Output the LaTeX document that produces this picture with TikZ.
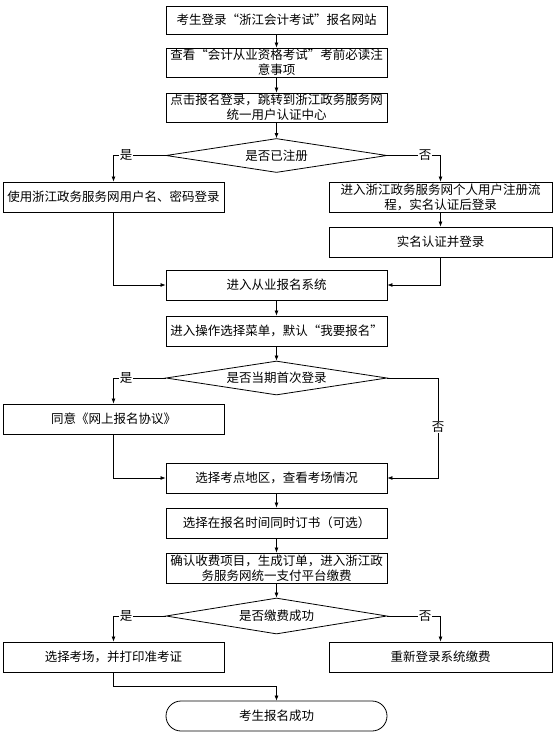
\documentclass[tikz,border=0pt]{standalone}
\usepackage{fontspec}
\setmainfont{Noto Sans CJK SC}
\newcommand{\mylq}{\makebox[1em][r]{“}}
\newcommand{\myrq}{\makebox[1em][l]{”}}
\usetikzlibrary{shapes.geometric,arrows.meta}
\begin{document}
\begin{tikzpicture}[x=1pt,y=-1pt,
  every node/.style={font=\fontsize{12.5}{15}\selectfont, inner sep=1pt},
  box/.style={draw, line width=0.9pt, minimum width=221pt, minimum height=30pt, align=center},
  dec/.style={draw, diamond, aspect=6.5, line width=0.8pt, minimum width=221pt, minimum height=34pt, inner sep=0pt},
  term/.style={draw, line width=0.8pt, rounded corners=15pt, minimum width=221pt, minimum height=30pt},
  arr/.style={draw, line width=0.7pt, -{Latex[length=5pt,width=4pt]}},
  lbl/.style={fill=white, inner sep=1pt}]
\useasboundingbox (0,0) rectangle (554,734);

\node[box, minimum height=28pt] (b1) at (276.5,20) {考生登录\mylq 浙江会计考试\myrq 报名网站};
\node[box, minimum height=29pt] (b2) at (276.5,62.5) {查看\mylq 会计从业资格考试\myrq 考前必读注\\意事项};
\node[box, minimum height=29pt] (b3) at (276.5,107.5) {点击报名登录，跳转到浙江政务服务网\\统一用户认证中心};
\node[dec] (d1) at (276.5,155.5) {是否已注册};
\node[box] (l1) at (113.5,197) {使用浙江政务服务网用户名、密码登录};
\node[box, minimum width=223pt] (r1) at (440.5,197) {进入浙江政务服务网个人用户注册流\\程，实名认证后登录};
\node[box, minimum width=223pt] (r2) at (440.5,242) {实名认证并登录};
\node[box] (b4) at (276.5,285) {进入从业报名系统};
\node[box] (b5) at (276.5,331) {进入操作选择菜单，默认\mylq 我要报名\myrq};
\node[dec] (d2) at (276.5,378) {是否当期首次登录};
\node[box] (l2) at (113.5,419) {同意《网上报名协议》};
\node[box] (b6) at (276.5,478) {选择考点地区，查看考场情况};
\node[box] (b7) at (276.5,523) {选择在报名时间同时订书（可选）};
\node[box] (b8) at (276.5,568) {确认收费项目，生成订单，进入浙江政\\务服务网统一支付平台缴费};
\node[dec, minimum height=36pt] (d3) at (276.5,616) {是否缴费成功};
\node[box] (l3) at (113.5,657) {选择考场，并打印准考证};
\node[box, minimum width=223pt] (r3) at (440.5,657) {重新登录系统缴费};
\node[term] (t) at (276.5,716) {考生报名成功};

\coordinate (c2) at (438,378);
\coordinate (c3) at (276.5,686);

\draw[arr] (b1) -- (b2);
\draw[arr] (b2) -- (b3);
\draw[arr] (b3) -- (d1);
\draw[arr] (d1.west) -| node[lbl, pos=0.38] {是} (l1.north);
\draw[arr] (d1.east) -| node[lbl, pos=0.355] {否} (r1.north);
\draw[arr] (r1) -- (r2);
\draw[arr] (l1.south) |- (b4.west);
\draw[arr] (r2.south) |- (b4.east);
\draw[arr] (b4) -- (b5);
\draw[arr] (b5) -- (d2);
\draw[arr] (d2.west) -| node[lbl, pos=0.38] {是} (l2.north);
\draw[arr] (d2.east) -- (c2) |- node[lbl, pos=0.245] {否} (b6.east);
\draw[arr] (l2.south) |- (b6.west);
\draw[arr] (b6) -- (b7);
\draw[arr] (b7) -- (b8);
\draw[arr] (b8) -- (d3);
\draw[arr] (d3.west) -| node[lbl, pos=0.38] {是} (l3.north);
\draw[arr] (d3.east) -| node[lbl, pos=0.355] {否} (r3.north);
\draw[arr] (l3.south) |- (c3) -- (t.north);
\end{tikzpicture}
\end{document}
